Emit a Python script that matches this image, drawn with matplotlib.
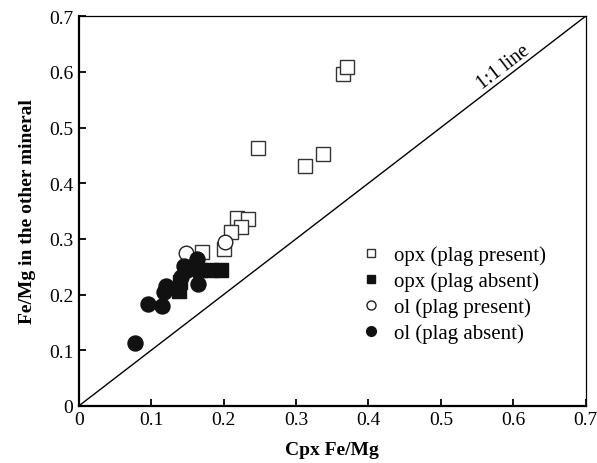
import matplotlib
matplotlib.use("Agg")
import matplotlib.pyplot as plt
from matplotlib.lines import Line2D

plt.rcParams['font.family'] = ['Liberation Serif', 'DejaVu Serif']

# Data (Cpx Fe/Mg vs Fe/Mg in other mineral)
opx_present_x = [0.365, 0.371, 0.247, 0.312, 0.337, 0.219, 0.233, 0.224, 0.210, 0.201, 0.170]
opx_present_y = [0.596, 0.608, 0.463, 0.431, 0.452, 0.337, 0.336, 0.321, 0.313, 0.282, 0.276]

opx_absent_x = [0.167, 0.182, 0.196, 0.138, 0.140]
opx_absent_y = [0.244, 0.244, 0.244, 0.207, 0.222]

ol_present_x = [0.148, 0.2015]
ol_present_y = [0.275, 0.295]

ol_absent_x = [0.163, 0.145, 0.164, 0.141, 0.120, 0.117, 0.0955, 0.115, 0.078, 0.150]
ol_absent_y = [0.264, 0.252, 0.219, 0.231, 0.216, 0.204, 0.183, 0.180, 0.1125, 0.245]

labels = ['opx (plag present)', 'opx (plag absent)', 'ol (plag present)', 'ol (plag absent)']
ticks = [0, 0.1, 0.2, 0.3, 0.4, 0.5, 0.6, 0.7]
tick_labels = ['0', '0.1', '0.2', '0.3', '0.4', '0.5', '0.6', '0.7']

fig = plt.figure(figsize=(5.97, 4.64), dpi=100)
ax = fig.add_axes([0.132, 0.123, 0.849, 0.840])

# 1:1 line
ax.plot([0, 0.7], [0, 0.7], color='black', lw=1.0, zorder=1)
ax.text(0.586, 0.609, '1:1 line', rotation=37.5, ha='center', va='center', fontsize=14.5)

ec = '#333333'
ax.plot(opx_present_x, opx_present_y, ls='none', marker='s', ms=10, mfc='white', mec=ec, mew=1.0, zorder=2)
ax.plot(ol_present_x, ol_present_y, ls='none', marker='o', ms=10.5, mfc='white', mec='#222222', mew=1.0, zorder=3)
ax.plot(opx_absent_x, opx_absent_y, ls='none', marker='s', ms=10, mfc='#111111', mec='#111111', mew=1.0, zorder=4)
ax.plot(ol_absent_x, ol_absent_y, ls='none', marker='o', ms=10.8, mfc='#111111', mec='#111111', mew=1.0, zorder=5)

handles = [
    Line2D([], [], ls='none', marker='s', ms=6, mfc='white', mec=ec, mew=1.0),
    Line2D([], [], ls='none', marker='s', ms=6, mfc='#111111', mec='#111111', mew=1.0),
    Line2D([], [], ls='none', marker='o', ms=6.5, mfc='white', mec='#222222', mew=1.0),
    Line2D([], [], ls='none', marker='o', ms=7, mfc='#111111', mec='#111111', mew=1.0),
]
ax.legend(handles, labels, loc='center left', bbox_to_anchor=(0.535, 0.286), frameon=False,
          fontsize=15, handlelength=1.0, handletextpad=0.6, labelspacing=0.3, borderpad=0)

ax.set_xlim(0, 0.7)
ax.set_ylim(0, 0.7)
ax.set_xticks(ticks)
ax.set_xticklabels(tick_labels)
ax.set_yticks(ticks)
ax.set_yticklabels(tick_labels)
ax.tick_params(direction='in', length=5, width=1.3, labelsize=14, pad=4)

for s in ['left', 'bottom']:
    ax.spines[s].set_linewidth(1.6)
for s in ['top', 'right']:
    ax.spines[s].set_linewidth(0.9)

ax.set_xlabel('Cpx Fe/Mg', fontsize=14, fontweight='bold', labelpad=9)
ax.set_ylabel('Fe/Mg in the other mineral', fontsize=14, fontweight='bold', labelpad=9)

fig.savefig('out.png', dpi=100)
